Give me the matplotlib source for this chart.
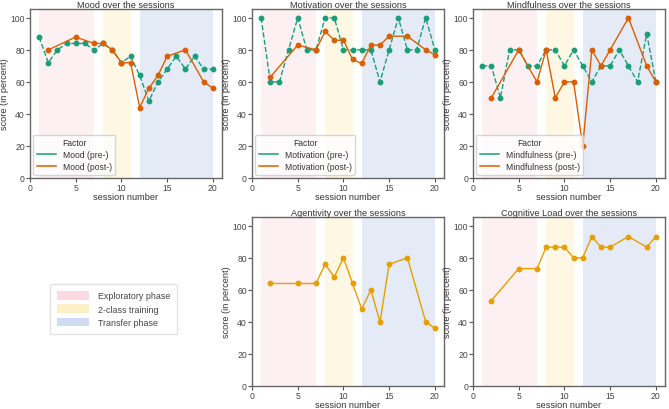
import matplotlib
matplotlib.use("Agg")
import matplotlib.pyplot as plt
from matplotlib.patches import Patch
from matplotlib.lines import Line2D

plt.rcParams['font.family'] = ['Liberation Sans', 'DejaVu Sans']
plt.rcParams['font.size'] = 6.5

sessions_all = list(range(1, 21))
sessions_post = [2, 5, 7, 8, 9, 10, 11, 12, 13, 14, 15, 17, 19, 20]

mood_pre = [88, 72, 80, 84, 84, 84, 80, 84, 80, 72, 76, 64, 48, 60, 68, 76, 68, 76, 68, 68]
mood_post = [80, 88, 84, 84, 80, 72, 72, 44, 56, 64, 76, 80, 60, 56]
motiv_pre = [100, 60, 60, 80, 100, 80, 80, 100, 100, 80, 80, 80, 80, 60, 80, 100, 80, 80, 100, 80]
motiv_post = [63, 83, 80, 91.5, 86, 86, 74, 71.5, 83, 83, 88.5, 88.5, 80, 77]
mind_pre = [70, 70, 50, 80, 80, 70, 70, 80, 80, 70, 80, 70, 60, 70, 70, 80, 70, 60, 90, 60]
mind_post = [50, 80, 60, 80, 50, 60, 60, 20, 80, 70, 80, 100, 70, 60]
agentivity = [64, 64, 64, 76, 68, 80, 64, 48, 60, 40, 76, 80, 40, 36]
cog_load = [53.3, 73.3, 73.3, 86.7, 86.7, 86.7, 80, 80, 93.3, 86.7, 86.7, 93.3, 86.7, 93.3]

phases = ["Exploratory phase", "2-class training", "Transfer phase"]
phase_ranges = [(1, 7), (8, 11), (12, 20)]
span_colors = ["#fdf0f3", "#fef7e4", "#e5ebf6"]
patch_colors = ["#fbdae3", "#fdefc9", "#cfdbee"]

c_pre = "#1b9e77"
c_post = "#d95f02"
c_single = "#e69f00"
txt = "#333333"

fig = plt.figure(figsize=(6.69, 4.10), dpi=100)
W, H = 669, 410

def make_ax(l, r, t, b):
    return fig.add_axes([l / W, 1 - b / H, (r - l) / W, (b - t) / H])

cols = [(30, 222), (252, 444), (473, 665)]
top = (10, 179)
bot = (218, 387)

def style(ax, title):
    for (a, b), col in zip(phase_ranges, span_colors):
        ax.axvspan(a, b, color=col, lw=0, zorder=0)
    ax.set_xlim(0, 21)
    ax.set_ylim(0, 105.5)
    ax.set_xticks([0, 5, 10, 15, 20])
    ax.set_yticks([0, 20, 40, 60, 80, 100])
    ax.set_title(title, fontsize=6.6, pad=1.5, color=txt)
    ax.set_xlabel("session number", fontsize=6.6, labelpad=0.2, color=txt)
    ax.set_ylabel("score (in percent)", fontsize=6.6, labelpad=0.8, color=txt)
    ax.tick_params(labelsize=6.2, length=2.6, width=0.8, pad=1.0, colors="#555555", labelcolor="#444444")
    for s in ax.spines.values():
        s.set_color("#666666")
        s.set_linewidth(1.0)

def pair_plot(ax, title, pre, post, name):
    style(ax, title)
    ax.plot(sessions_all, pre, color=c_pre, ls="--", lw=1.0, marker="o", ms=3.2)
    ax.plot(sessions_post, post, color=c_post, ls="-", lw=1.0, marker="o", ms=3.2)
    hh = [Line2D([], [], color=c_pre, lw=1.1), Line2D([], [], color=c_post, lw=1.1)]
    ll = [f"{name} (pre-)", f"{name} (post-)"]
    leg = ax.legend(hh, ll, title="Factor", loc="lower left", fontsize=6.2, title_fontsize=6.2,
                    frameon=True, borderpad=0.4, handlelength=2.2, labelspacing=0.35,
                    handletextpad=0.8, borderaxespad=0.4)
    leg.get_frame().set_edgecolor("#cccccc")
    for t in leg.get_texts():
        t.set_color(txt)
    leg.get_title().set_color(txt)

def single_plot(ax, title, vals):
    style(ax, title)
    ax.plot(sessions_post, vals, color=c_single, lw=1.0, marker="o", ms=3.2)

ax1 = make_ax(*cols[0], *top)
pair_plot(ax1, "Mood over the sessions", mood_pre, mood_post, "Mood")
ax2 = make_ax(*cols[1], *top)
pair_plot(ax2, "Motivation over the sessions", motiv_pre, motiv_post, "Motivation")
ax3 = make_ax(*cols[2], *top)
pair_plot(ax3, "Mindfulness over the sessions", mind_pre, mind_post, "Mindfulness")
ax4 = make_ax(*cols[1], *bot)
single_plot(ax4, "Agentivity over the sessions", agentivity)
ax5 = make_ax(*cols[2], *bot)
single_plot(ax5, "Cognitive Load over the sessions", cog_load)

handles = [Patch(facecolor=c, edgecolor="none") for c in patch_colors]
fleg = fig.legend(handles, phases, loc="upper left", bbox_to_anchor=(50 / W, 1 - 285 / H),
                  fontsize=6.4, frameon=True, handlelength=3.6, handleheight=1.1,
                  borderpad=0.8, labelspacing=0.45, handletextpad=1.0, borderaxespad=0)
fleg.get_frame().set_edgecolor("#dddddd")
for t in fleg.get_texts():
    t.set_color("#444444")

fig.savefig("out.png", dpi=100)
